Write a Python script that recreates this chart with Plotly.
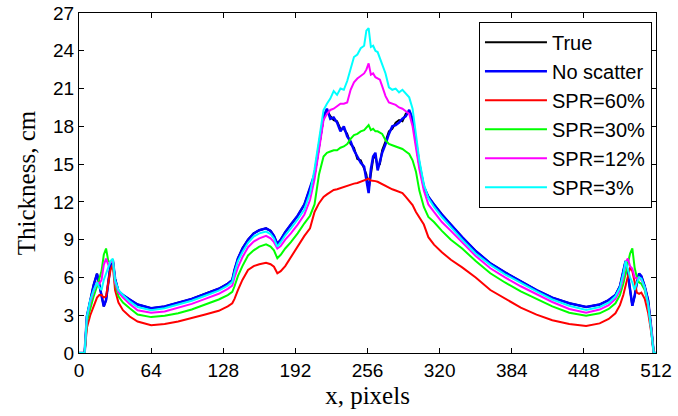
import plotly.graph_objects as go

x_px = [0, 5, 7, 10, 13, 16, 18, 20, 22, 24, 26, 28, 30, 32, 35, 39, 45,
        52, 64, 76, 88, 100, 112, 124, 132, 136, 138, 141, 145, 150, 155, 160, 166, 170, 173, 176, 179, 183, 188, 194, 200, 205,
        209, 213, 217, 220, 223, 226, 229, 232, 235, 238, 241, 244, 247, 250, 253, 255, 257, 259, 261, 263, 265, 267, 269, 272, 275, 278, 281, 284, 287, 290, 293, 296, 299, 302, 306, 310,
        315, 322, 330, 340, 352, 365, 378, 392, 406, 420, 435, 450, 462, 470, 476, 480, 483, 485, 487, 489, 491, 493, 495, 497, 499, 502, 505, 508, 510, 512]

no_scatter = [0, 0, 2.9, 4.3, 5.4, 6.3, 5.4, 4.4, 3.7, 4.2, 5.8, 7.0, 7.4, 5.9, 4.9, 4.6, 4.25,
              3.85, 3.55, 3.7, 4.0, 4.3, 4.7, 5.1, 5.5, 5.8, 6.6, 7.5, 8.3, 9.0, 9.5, 9.75, 9.9, 9.7, 9.3, 8.66, 9.0, 9.6, 10.2, 10.9, 11.8, 13.1,
              14.2, 16.5, 18.8, 19.4, 18.6, 18.7, 18.3, 17.6, 18.0, 17.2, 16.8, 16.1, 15.6, 15.1, 14.8, 13.9, 12.7, 14.6, 15.6, 15.9, 14.5, 15.2, 15.9, 16.6, 17.4, 18.0, 18.1, 18.3, 18.6, 18.8, 19.3, 18.6, 16.8, 15.0, 13.2, 12.4,
              11.8, 11.0, 10.2, 9.2, 8.1, 7.12, 6.4, 5.7, 5.0, 4.4, 3.95, 3.65, 3.85, 4.2, 4.6, 5.3, 6.4, 7.3, 6.3, 4.8, 3.75, 4.5, 5.6, 6.3, 6.1, 5.3, 4.2, 1.8, 0, 0]

true_vals = [0, 0, 2.9, 4.3, 5.4, 6.3, 5.4, 4.4, 3.7, 4.2, 5.8, 7.0, 7.4, 5.9, 4.9, 4.6, 4.25,
             3.85, 3.55, 3.7, 4.0, 4.3, 4.7, 5.1, 5.5, 5.8, 6.6, 7.5, 8.3, 9.0, 9.5, 9.75, 9.9, 9.7, 9.3, 8.66, 9.0, 9.6, 10.2, 10.9, 11.8, 13.1,
             14.1, 16.4, 18.7, 19.3, 18.8, 18.5, 18.4, 17.8, 17.8, 17.4, 16.6, 16.3, 15.4, 15.3, 14.6, 14.2, 13.0, 14.4, 15.4, 15.7, 14.8, 15.0, 16.1, 16.8, 17.6, 17.8, 18.3, 18.5, 18.4, 19.0, 19.2, 18.5, 16.7, 14.9, 13.2, 12.4,
             11.8, 11.0, 10.2, 9.2, 8.1, 7.12, 6.4, 5.7, 5.0, 4.4, 3.95, 3.65, 3.85, 4.2, 4.6, 5.3, 6.4, 7.3, 6.3, 4.8, 3.75, 4.5, 5.6, 6.3, 6.1, 5.3, 4.2, 1.8, 0, 0]

spr60 = [0, 0, 2.0, 3.0, 3.7, 4.4, 4.6, 4.6, 4.4, 4.5, 5.6, 6.6, 7.0, 5.0, 4.0, 3.4, 2.9,
         2.5, 2.2, 2.3, 2.5, 2.75, 3.05, 3.35, 3.7, 3.95, 4.3, 5.0, 5.8, 6.6, 6.9, 7.05, 7.17, 7.05, 6.85, 6.33, 6.5, 6.9, 7.6, 8.5, 9.3, 9.9,
         11.2, 11.9, 12.4, 12.6, 12.8, 12.95, 13.0, 13.1, 13.2, 13.3, 13.35, 13.45, 13.5, 13.6, 13.7, 13.8, 13.85, 13.7, 13.7, 13.65, 13.6, 13.5, 13.4, 13.25, 13.15, 13.0, 12.9, 12.8, 12.7, 12.4, 12.1, 11.75, 11.2, 10.8, 10.2, 9.2,
         8.6, 8.0, 7.4, 6.8, 6.0, 5.0, 4.3, 3.6, 3.05, 2.6, 2.3, 2.15, 2.35, 2.7, 3.15, 3.8, 4.6, 5.4, 6.2, 6.8, 6.5, 5.5, 4.8, 4.7, 4.8, 4.3, 3.2, 1.5, 0, 0]

spr30 = [0, 0, 2.5, 3.6, 4.5, 5.3, 5.9, 6.5, 7.8, 8.3, 7.3, 7.2, 7.3, 5.5, 4.5, 4.0, 3.55,
         3.05, 2.85, 2.95, 3.15, 3.45, 3.85, 4.25, 4.6, 4.85, 5.3, 6.1, 6.9, 7.75, 8.15, 8.45, 8.63, 8.45, 8.15, 7.52, 7.8, 8.3, 8.8, 9.5, 10.3, 10.9,
         11.8, 14.2, 15.6, 15.9, 16.0, 16.1, 16.1, 16.3, 16.4, 16.6, 17.0, 17.3, 17.4, 17.6, 17.7, 17.9, 18.1, 17.7, 17.8, 17.6, 17.6, 17.5, 17.4, 16.9, 16.6, 16.5, 16.4, 16.3, 16.2, 16.0, 15.8, 15.3, 14.4, 12.9, 11.6, 10.8,
         10.4, 9.7, 9.0, 8.3, 7.3, 6.33, 5.6, 4.9, 4.3, 3.7, 3.2, 2.95, 3.15, 3.5, 3.95, 4.6, 5.5, 6.3, 7.2, 7.9, 8.3, 6.8, 6.0, 5.6, 5.5, 5.0, 3.8, 1.8, 0, 0]

spr12 = [0, 0, 2.8, 4.0, 4.9, 5.6, 5.5, 5.8, 7.0, 7.5, 7.0, 7.2, 7.4, 5.6, 4.8, 4.4, 3.9,
         3.4, 3.2, 3.3, 3.6, 3.9, 4.3, 4.7, 5.1, 5.35, 6.0, 6.8, 7.6, 8.4, 8.85, 9.1, 9.3, 9.1, 8.8, 8.3, 8.5, 9.0, 9.5, 10.2, 11.0, 12.15,
         13.8, 16.0, 18.5, 19.0, 19.3, 19.4, 19.6, 19.8, 19.8, 19.9, 20.9, 21.5, 21.8, 22.0, 22.2, 22.5, 23.0, 22.1, 22.2, 21.9, 21.8, 21.7, 21.2, 20.4, 19.9, 19.8, 19.7, 19.5, 19.4, 19.2, 19.0, 18.0, 16.3, 14.6, 12.9, 11.8,
         11.2, 10.4, 9.7, 8.8, 7.7, 6.73, 6.0, 5.3, 4.7, 4.05, 3.5, 3.2, 3.45, 3.8, 4.3, 5.0, 6.0, 7.2, 7.5, 6.9, 6.7, 6.0, 5.9, 6.0, 5.8, 5.2, 3.8, 1.8, 0, 0]

spr3 = [0, 0, 2.9, 4.2, 5.0, 5.6, 5.2, 5.0, 5.8, 6.4, 6.8, 7.3, 7.5, 5.8, 5.0, 4.6, 4.1,
        3.65, 3.4, 3.55, 3.85, 4.15, 4.55, 4.95, 5.35, 5.65, 6.4, 7.3, 8.0, 8.75, 9.25, 9.5, 9.64, 9.45, 9.1, 8.44, 8.8, 9.35, 9.9, 10.6, 11.4, 12.7,
        14.6, 17.0, 19.3, 19.8, 20.2, 20.8, 20.5, 21.0, 20.9, 21.6, 22.6, 23.5, 23.7, 24.2, 24.4, 25.6, 25.8, 24.3, 24.4, 24.0, 23.9, 23.4, 22.8, 22.2, 21.1, 20.9, 21.0, 20.7, 20.9, 20.6, 20.3, 19.4, 17.5, 15.3, 13.4, 12.3,
        11.6, 10.8, 10.0, 9.0, 7.9, 7.0, 6.25, 5.55, 4.9, 4.25, 3.75, 3.42, 3.65, 4.0, 4.5, 5.2, 6.3, 7.3, 6.6, 6.0, 5.6, 5.0, 5.6, 6.0, 5.9, 5.2, 3.9, 1.8, 0, 0]

series_names = ["True", "No scatter", "SPR=60%", "SPR=30%", "SPR=12%", "SPR=3%"]
series_vals = [true_vals, no_scatter, spr60, spr30, spr12, spr3]
series_colors = ["#000000", "#0000FF", "#FF0000", "#00FF00", "#FF00FF", "#00FFFF"]
series_widths = [2, 2.5, 2, 2, 2, 2]

x_ticks = [0, 64, 128, 192, 256, 320, 384, 448, 512]
y_ticks = [0, 3, 6, 9, 12, 15, 18, 21, 24, 27]

for v in series_vals:
    assert len(v) == len(x_px), (len(v), len(x_px))

fig = go.Figure()
for name, vals, col, w in zip(series_names, series_vals, series_colors, series_widths):
    fig.add_trace(go.Scatter(x=x_px, y=vals, mode="lines", name=name,
                             line=dict(color=col, width=w)))

axis_common = dict(showline=True, linecolor="black", linewidth=1, mirror="ticks",
                   ticks="inside", ticklen=5, tickcolor="black", showgrid=False,
                   zeroline=False, automargin=False,
                   tickfont=dict(family="Liberation Sans, Arial", size=19, color="black"))

fig.update_xaxes(range=[0, 512], tickvals=x_ticks, ticktext=[str(t) for t in x_ticks],
                 title=dict(text="x, pixels", font=dict(family="Liberation Serif, Times New Roman", size=25, color="black"),
                            standoff=6),
                 **axis_common)
fig.update_yaxes(range=[0, 27], tickvals=y_ticks, ticktext=[str(t) for t in y_ticks],
                 title=dict(text="Thickness, cm", font=dict(family="Liberation Serif, Times New Roman", size=25, color="black"),
                            standoff=10),
                 **axis_common)

fig.update_layout(
    width=678, height=416,
    margin=dict(l=79, r=22, t=13, b=63),
    plot_bgcolor="white", paper_bgcolor="white",
    legend=dict(x=0.993, y=0.974, xanchor="right", yanchor="top",
                bgcolor="white", bordercolor="black", borderwidth=1,
                font=dict(family="Liberation Sans, Arial", size=20, color="black"),
                tracegroupgap=0, itemwidth=62),
)

# remove the default 8px page margin so the figure sits at the window's top-left corner
fig.write_html("out.html", config={"displayModeBar": False},
               post_script="document.body.style.margin='0';")
